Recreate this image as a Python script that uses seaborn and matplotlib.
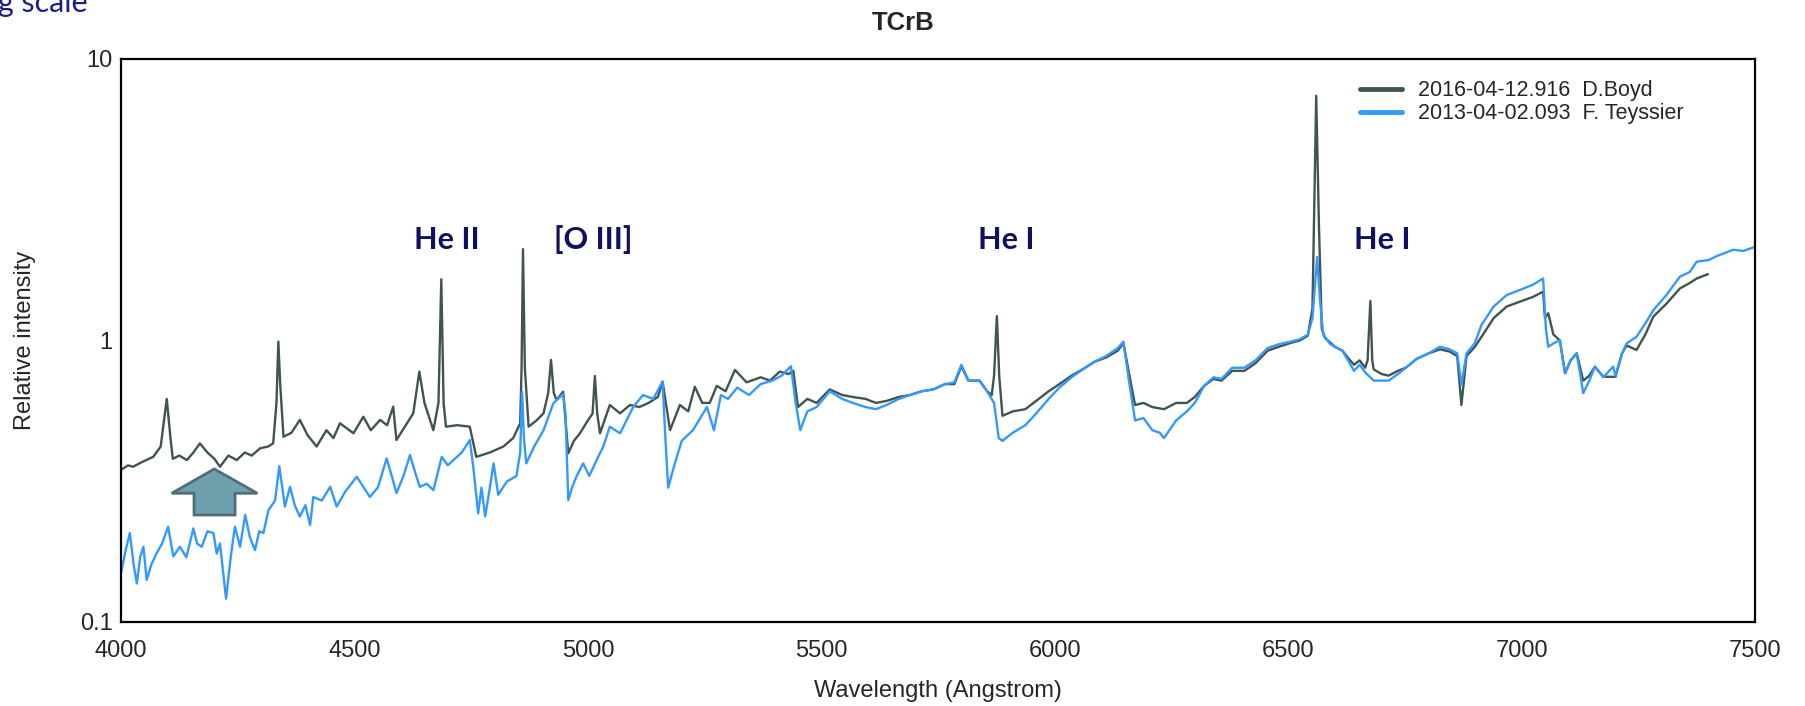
import numpy as np
import pandas as pd
import matplotlib
matplotlib.use("Agg")
import matplotlib.pyplot as plt
import seaborn as sns
from matplotlib.ticker import MultipleLocator, LogLocator, FuncFormatter, NullFormatter
from matplotlib.patches import Polygon

# spectrum D.Boyd 2016-04-12.916 (wavelength in Angstrom, relative intensity)
boyd_wl = [4000, 4015, 4026, 4045, 4069, 4085, 4098, 4106, 4111, 4125, 4141, 4155, 4169, 4185,
           4200, 4212, 4230, 4248, 4265, 4280, 4298, 4315, 4326, 4333, 4337, 4341, 4348, 4365,
           4383, 4400, 4419, 4440, 4455, 4469, 4498, 4519, 4535, 4555, 4570, 4583, 4590, 4610,
           4626, 4639, 4650, 4669, 4680, 4686, 4691, 4696, 4720, 4747, 4761, 4790, 4819, 4840,
           4855, 4858, 4861, 4865, 4873, 4890, 4905, 4915, 4921, 4927, 4933, 4947, 4958, 4970,
           4983, 5000, 5010, 5015, 5020, 5026, 5047, 5069, 5090, 5110, 5130, 5150, 5160, 5176,
           5197, 5215, 5229, 5245, 5261, 5276, 5295, 5315, 5340, 5370, 5390, 5411, 5430, 5440,
           5450, 5470, 5490, 5518, 5545, 5567, 5595, 5617, 5640, 5666, 5690, 5715, 5740, 5765,
           5785, 5800, 5815, 5839, 5855, 5865, 5870, 5876, 5881, 5888, 5910, 5937, 5960, 5987,
           6010, 6036, 6060, 6085, 6110, 6135, 6147, 6160, 6172, 6190, 6209, 6234, 6260, 6283,
           6300, 6320, 6340, 6357, 6380, 6406, 6430, 6456, 6480, 6505, 6525, 6542, 6552, 6560,
           6566, 6572, 6579, 6600, 6616, 6630, 6641, 6653, 6665, 6670, 6676, 6680, 6683, 6700,
           6715, 6735, 6752, 6775, 6801, 6825, 6846, 6862, 6871, 6882, 6900, 6914, 6940, 6968,
           7000, 7025, 7046, 7050, 7057, 7068, 7082, 7093, 7105, 7118, 7132, 7145, 7157, 7175,
           7201, 7215, 7225, 7246, 7265, 7282, 7310, 7339, 7360, 7375, 7399]
boyd_flux = [0.347, 0.36, 0.356, 0.37, 0.386, 0.42, 0.62, 0.45, 0.38, 0.39, 0.376, 0.40, 0.431, 0.40,
             0.38, 0.356, 0.39, 0.376, 0.40, 0.39, 0.414, 0.42, 0.431, 0.6, 0.99, 0.7, 0.455, 0.47,
             0.522, 0.46, 0.42, 0.48, 0.45, 0.508, 0.468, 0.536, 0.48, 0.522, 0.50, 0.582, 0.443, 0.50,
             0.551, 0.775, 0.6, 0.48, 0.6, 1.65, 0.6, 0.494, 0.50, 0.494, 0.386, 0.40, 0.42, 0.45,
             0.508, 0.8, 2.11, 0.8, 0.494, 0.52, 0.551, 0.65, 0.853, 0.65, 0.615, 0.658, 0.397, 0.44,
             0.468, 0.52, 0.55, 0.748, 0.55, 0.468, 0.59, 0.551, 0.59, 0.58, 0.60, 0.63, 0.714, 0.48,
             0.59, 0.56, 0.685, 0.60, 0.60, 0.69, 0.66, 0.786, 0.71, 0.74, 0.72, 0.775, 0.76, 0.78,
             0.58, 0.62, 0.60, 0.67, 0.64, 0.63, 0.62, 0.60, 0.61, 0.63, 0.64, 0.66, 0.67, 0.70,
             0.70, 0.81, 0.72, 0.72, 0.66, 0.64, 0.75, 1.22, 0.75, 0.54, 0.56, 0.57, 0.61, 0.66,
             0.70, 0.75, 0.79, 0.84, 0.87, 0.92, 0.98, 0.75, 0.59, 0.60, 0.58, 0.57, 0.60, 0.60,
             0.63, 0.69, 0.73, 0.72, 0.78, 0.78, 0.83, 0.92, 0.95, 0.98, 1.0, 1.04, 1.3, 7.4,
             2.5, 1.1, 1.02, 0.95, 0.92, 0.86, 0.82, 0.85, 0.8, 0.85, 1.38, 0.85, 0.79, 0.76,
             0.75, 0.78, 0.80, 0.86, 0.90, 0.93, 0.913, 0.88, 0.59, 0.88, 0.95, 1.03, 1.2, 1.32,
             1.38, 1.43, 1.49, 1.2, 1.25, 1.05, 1.0, 0.765, 0.85, 0.9, 0.72, 0.75, 0.807, 0.743,
             0.743, 0.9, 0.96, 0.925, 1.05, 1.215, 1.35, 1.53, 1.6, 1.66, 1.72]

# spectrum F. Teyssier 2013-04-02.093
teyssier_wl = [4000, 4010, 4019, 4027, 4034, 4041, 4048, 4055, 4065, 4076, 4088, 4101, 4112, 4126,
               4140, 4155, 4163, 4173, 4185, 4198, 4205, 4212, 4225, 4235, 4244, 4255, 4266, 4276,
               4287, 4296, 4305, 4316, 4330, 4339, 4351, 4362, 4372, 4383, 4395, 4405, 4412, 4430,
               4448, 4462, 4480, 4505, 4520, 4533, 4550, 4569, 4580, 4590, 4605, 4619, 4630, 4640,
               4655, 4669, 4687, 4700, 4712, 4730, 4747, 4755, 4765, 4772, 4780, 4790, 4798, 4808,
               4826, 4847, 4855, 4859, 4863, 4868, 4885, 4905, 4926, 4947, 4952, 4958, 4966, 4976,
               4990, 5003, 5020, 5033, 5047, 5069, 5097, 5118, 5140, 5160, 5166, 5172, 5185, 5201,
               5225, 5255, 5270, 5285, 5300, 5320, 5345, 5370, 5395, 5415, 5435, 5445, 5455, 5470,
               5490, 5518, 5545, 5567, 5595, 5617, 5640, 5666, 5690, 5715, 5740, 5765, 5785, 5800,
               5815, 5839, 5855, 5870, 5880, 5888, 5910, 5937, 5960, 5987, 6010, 6036, 6060, 6085,
               6110, 6135, 6147, 6160, 6172, 6190, 6209, 6225, 6234, 6260, 6283, 6300, 6320, 6340,
               6357, 6380, 6406, 6430, 6456, 6480, 6505, 6525, 6542, 6552, 6562, 6568, 6575, 6590,
               6616, 6630, 6641, 6653, 6665, 6683, 6700, 6715, 6735, 6752, 6775, 6801, 6825, 6846,
               6862, 6871, 6882, 6900, 6914, 6940, 6968, 7000, 7025, 7046, 7052, 7057, 7070, 7082,
               7093, 7105, 7118, 7132, 7145, 7157, 7175, 7196, 7201, 7215, 7225, 7246, 7265, 7282,
               7310, 7339, 7360, 7375, 7400, 7420, 7453, 7475, 7500]
teyssier_flux = [0.149, 0.18, 0.207, 0.16, 0.137, 0.17, 0.185, 0.141, 0.16, 0.175, 0.19, 0.218, 0.171, 0.185,
                 0.17, 0.215, 0.19, 0.185, 0.21, 0.207, 0.175, 0.19, 0.121, 0.17, 0.218, 0.185, 0.24, 0.2,
                 0.18, 0.21, 0.207, 0.25, 0.27, 0.358, 0.257, 0.302, 0.26, 0.237, 0.26, 0.221, 0.278, 0.27,
                 0.302, 0.257, 0.29, 0.328, 0.3, 0.278, 0.3, 0.381, 0.33, 0.287, 0.33, 0.392, 0.34, 0.302,
                 0.31, 0.294, 0.386, 0.36, 0.376, 0.40, 0.443, 0.35, 0.243, 0.3, 0.237, 0.3, 0.366, 0.283,
                 0.315, 0.33, 0.4, 0.658, 0.45, 0.366, 0.42, 0.48, 0.598, 0.645, 0.55, 0.271, 0.30, 0.33,
                 0.366, 0.33, 0.38, 0.42, 0.494, 0.468, 0.58, 0.64, 0.62, 0.714, 0.45, 0.30, 0.36, 0.44,
                 0.48, 0.58, 0.48, 0.64, 0.62, 0.68, 0.64, 0.70, 0.72, 0.75, 0.81, 0.60, 0.48, 0.56,
                 0.58, 0.66, 0.62, 0.60, 0.58, 0.57, 0.59, 0.62, 0.64, 0.66, 0.67, 0.70, 0.71, 0.82,
                 0.72, 0.72, 0.66, 0.60, 0.45, 0.44, 0.47, 0.50, 0.55, 0.62, 0.68, 0.74, 0.79, 0.84,
                 0.88, 0.94, 0.99, 0.70, 0.52, 0.53, 0.48, 0.47, 0.45, 0.52, 0.56, 0.60, 0.69, 0.74,
                 0.73, 0.80, 0.80, 0.85, 0.94, 0.97, 0.99, 1.01, 1.05, 1.2, 1.98, 1.4, 1.05, 0.97,
                 0.92, 0.84, 0.78, 0.82, 0.77, 0.72, 0.72, 0.72, 0.76, 0.80, 0.86, 0.90, 0.95, 0.93,
                 0.90, 0.695, 0.90, 0.98, 1.135, 1.32, 1.45, 1.52, 1.58, 1.66, 1.1, 0.95, 0.98, 1.0,
                 0.765, 0.85, 0.9, 0.65, 0.72, 0.807, 0.74, 0.807, 0.75, 0.9, 0.977, 1.03, 1.15, 1.28,
                 1.45, 1.685, 1.75, 1.905, 1.93, 2.0, 2.1, 2.08, 2.15]

series_labels = ["2016-04-12.916  D.Boyd", "2013-04-02.093  F. Teyssier"]
line_names = ["He II", "[O III]", "He I", "He I"]

df = pd.concat([
    pd.DataFrame({"wl": boyd_wl, "flux": boyd_flux, "spec": series_labels[0]}),
    pd.DataFrame({"wl": teyssier_wl, "flux": teyssier_flux, "spec": series_labels[1]}),
])

sns.set_style("white")
plt.rcParams["font.family"] = ["Liberation Sans", "DejaVu Sans"]

fig = plt.figure(figsize=(18.06, 7.06), dpi=100)
ax = fig.add_axes([0.067, 0.119, 0.9048, 0.7975])

colors = {series_labels[0]: "#405450", series_labels[1]: "#3399ff"}
sns.lineplot(data=df, x="wl", y="flux", hue="spec", palette=colors, hue_order=series_labels,
             estimator=None, sort=False, lw=1.7, ax=ax)

ax.set_yscale("log")
ax.set_xlim(4000, 7500)
ax.set_ylim(0.1, 10)

ax.xaxis.set_major_locator(MultipleLocator(500))
ax.xaxis.set_minor_locator(MultipleLocator(100))
ax.yaxis.set_major_locator(LogLocator(base=10))
ax.yaxis.set_minor_locator(LogLocator(base=10, subs=np.arange(2, 10)))
ax.yaxis.set_major_formatter(FuncFormatter(lambda v, p: f"{v:g}"))
ax.yaxis.set_minor_formatter(NullFormatter())

ax.tick_params(which="major", direction="in", length=7, width=1.2, color="black", labelsize=17)
ax.tick_params(which="minor", direction="in", length=4.5, width=1, color="#999999")
ax.tick_params(axis="x", which="major", pad=13)
ax.tick_params(axis="y", which="major", pad=6)

for s in ax.spines.values():
    s.set_color("black")
    s.set_linewidth(1.6)

ax.set_xlabel("Wavelength (Angstrom)", fontsize=17)
ax.set_ylabel("Relative intensity", fontsize=17)
ax.xaxis.set_label_coords(0.5, -0.122)
ax.xaxis.label.set_va("center")
ax.yaxis.set_label_coords(-0.059, 0.5)
ax.yaxis.label.set_va("center")

handles, labels = ax.get_legend_handles_labels()
leg = ax.legend(handles, labels, loc="upper left", bbox_to_anchor=(0.758, 0.962), frameon=False,
                fontsize=15.5, handlelength=1.95, handletextpad=0.75, labelspacing=0.1,
                borderpad=0, borderaxespad=0)
for h in leg.get_lines():
    h.set_linewidth(3.5)

fig.text(0.5, 1 - 23 / 706, "TCrB", ha="center", va="center", fontsize=18.5, fontweight="bold")

# spectral line labels (figure pixel positions)
label_x = [447, 593, 1006, 1382]
for name, px in zip(line_names, label_x):
    fig.text(px / 1806, 1 - 240 / 706, name, ha="center", va="center", fontsize=22,
             fontweight="bold", color="#101060", family=["Lato", "DejaVu Sans"])

# caption cut off at the top left, as in the source slide
fig.text(88 / 1806, 1 - 12 / 706, "Log scale", ha="right", va="baseline", fontsize=22,
         color="#1c1c8c", family=["Lato", "DejaVu Sans"])

# block arrow pointing up
arrow = Polygon([(0.0571, 0.2718), (0.0834, 0.2286), (0.0698, 0.2286), (0.0698, 0.190),
                 (0.0447, 0.190), (0.0447, 0.2286), (0.0310, 0.2286)], closed=True,
                transform=ax.transAxes, facecolor="#6fa0ad", edgecolor="#4f6f78", lw=2, zorder=5)
ax.add_patch(arrow)

fig.savefig("out.png", dpi=100)
